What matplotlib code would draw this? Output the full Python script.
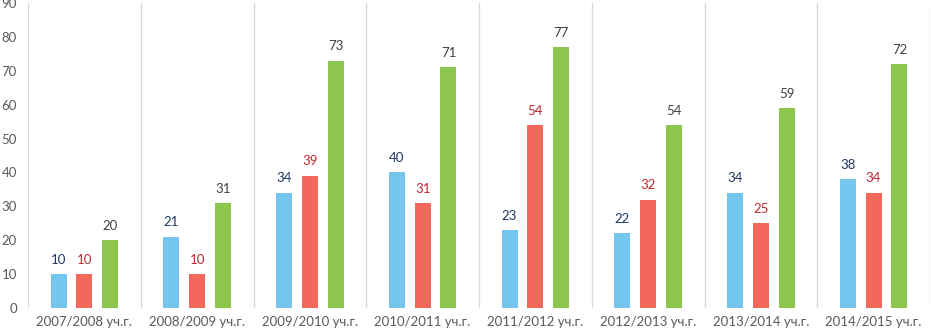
import numpy as np
import matplotlib
matplotlib.use('Agg')
import matplotlib.pyplot as plt

years = ["2007/2008 уч.г.", "2008/2009 уч.г.", "2009/2010 уч.г.", "2010/2011 уч.г.",
         "2011/2012 уч.г.", "2012/2013 уч.г.", "2013/2014 уч.г.", "2014/2015 уч.г."]
blue_vals = [10, 21, 34, 40, 23, 22, 34, 38]
red_vals = [10, 10, 39, 31, 54, 32, 25, 34]
green_vals = [20, 31, 73, 71, 77, 54, 59, 72]


def main():
    plt.rcParams['font.family'] = ['Lato', 'DejaVu Sans']
    fig = plt.figure(figsize=(9.31, 3.34), dpi=100)
    ax = fig.add_axes([28 / 931, 26 / 334, 902 / 931, 305 / 334])

    x = np.arange(len(years))
    off = 0.229
    w = 0.142
    series = [(blue_vals, '#75C6EE', '#1F3864', -off),
              (red_vals, '#F2695C', '#C0282D', 0),
              (green_vals, '#8DC64D', '#404040', off)]
    for vals, col, tcol, dx in series:
        ax.bar(x + dx, vals, w, color=col, zorder=2)
        for xi, v in zip(x, vals):
            ax.annotate(str(v), (xi + dx, v), xytext=(0, 6), textcoords='offset points',
                        ha='center', va='bottom', fontsize=9.5, color=tcol)

    for s in np.arange(-0.5, len(years) + 0.5, 1):
        ax.axvline(s, color='#D9D9D9', lw=1, zorder=1)

    ax.set_xlim(-0.5, len(years) - 0.5)
    ax.set_ylim(0, 90)
    ax.set_yticks(range(0, 91, 10))
    ax.set_xticks(x)
    ax.set_xticklabels(years)
    ax.tick_params(axis='both', length=0, labelsize=9.5, labelcolor='#595959')
    ax.tick_params(axis='y', pad=8)
    ax.tick_params(axis='x', pad=6)
    for sp in ax.spines.values():
        sp.set_visible(False)

    fig.savefig('out.png', dpi=100)


if __name__ == '__main__':
    main()
